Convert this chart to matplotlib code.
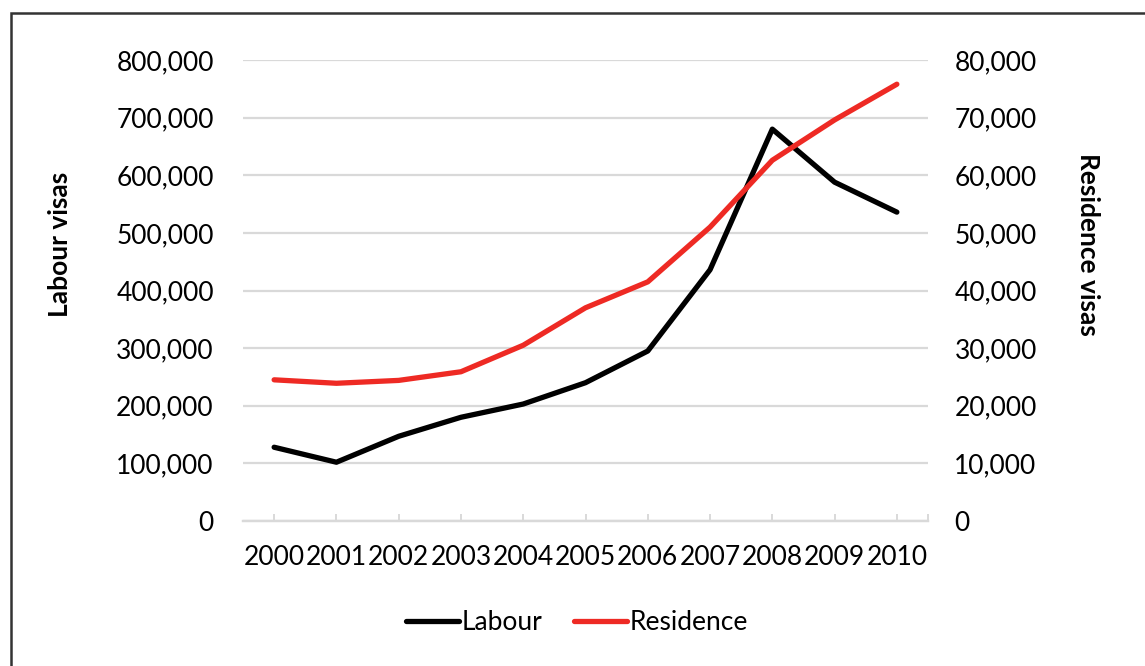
import matplotlib.pyplot as plt
from matplotlib.patches import Rectangle
from matplotlib.ticker import FuncFormatter

years = ['2000', '2001', '2002', '2003', '2004', '2005', '2006', '2007', '2008', '2009', '2010']
labour = [128000, 102000, 147000, 180000, 203000, 240000, 295000, 436000, 680000, 588000, 536000]
residence = [24500, 23900, 24400, 25900, 30500, 37000, 41500, 51000, 62600, 69600, 75800]

plt.rcParams['font.family'] = ['Lato', 'DejaVu Sans']

fig = plt.figure(figsize=(11.45, 6.66), dpi=100)
W, H = 1145, 666
ax = fig.add_axes([243 / W, 1 - 521 / H, (928 - 243) / W, (521 - 60) / H])
ax2 = ax.twinx()

# outer frame (right/bottom edges fall outside the picture)
fig.patches.append(Rectangle((11 / W, -0.1), 1.2, 1 - 13 / H + 0.1, transform=fig.transFigure,
                             fill=False, edgecolor='#333333', linewidth=1.8))

x = range(len(years))
grid_c = '#d9d9d9'
fs = 19

ax.set_ylim(0, 800000)
ax.set_yticks(range(0, 800001, 100000))
ax2.set_ylim(0, 80000)
ax2.set_yticks(range(0, 80001, 10000))
ax.set_xlim(-0.5, len(years) - 0.5)
ax.grid(axis='y', color=grid_c, linewidth=1.6)
ax.set_axisbelow(True)

l1, = ax.plot(x, labour, color='black', linewidth=3.8, solid_capstyle='round', label='Labour', zorder=3)
l2, = ax2.plot(x, residence, color='#ee2a24', linewidth=3.8, solid_capstyle='round', label='Residence', zorder=3)

fmt = FuncFormatter(lambda v, p: f'{int(v):,}')
ax.yaxis.set_major_formatter(fmt)
ax2.yaxis.set_major_formatter(fmt)

for a in (ax, ax2):
    for s in ('top', 'left', 'right'):
        a.spines[s].set_visible(False)
    a.spines['bottom'].set_color(grid_c)
    a.spines['bottom'].set_linewidth(1.6)

ax.set_xticks(list(x))
ax.set_xticks([len(years) - 0.5], minor=True)
ax.set_xticklabels(years)
ax.tick_params(axis='x', which='both', direction='in', length=5, color=grid_c, width=1.4,
               labelsize=fs, pad=17)
ax.tick_params(axis='y', length=0, labelsize=fs, pad=21)
ax2.tick_params(axis='y', length=0, labelsize=fs, pad=19)

ax.set_ylabel('Labour visas', fontsize=fs, fontweight='bold')
ax.yaxis.set_label_coords(-0.249, 0.599)
ax2.set_ylabel('Residence visas', fontsize=fs, fontweight='bold', rotation=-90, va='center')
ax2.yaxis.set_label_coords(1.234, 0.599)

fig.legend(handles=[l1, l2], loc='center', bbox_to_anchor=(577 / W, 1 - 623 / H), ncol=2,
           frameon=False, fontsize=fs, handlelength=2.0, handletextpad=0.1, columnspacing=1.2)

fig.savefig('out.png', dpi=100)
